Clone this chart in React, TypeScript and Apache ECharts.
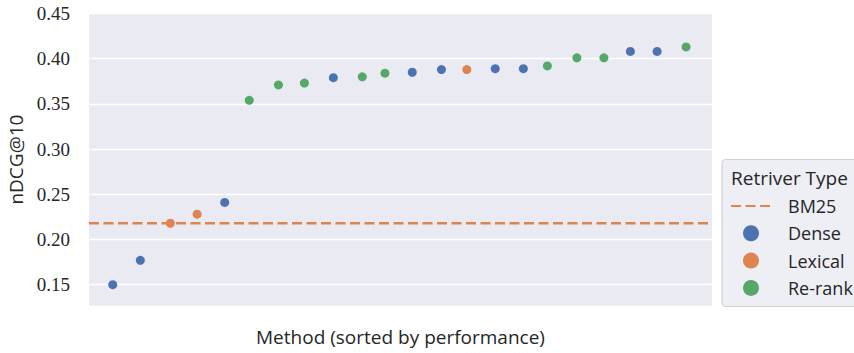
import React, { useEffect, useRef } from "react";
import * as echarts from "echarts";

// Method positions (sorted by performance, with the plot's small horizontal jitter)
const methodRank = [-0.02, 0.99, 2.09, 3.07, 4.08, 4.98, 6.05, 7.0, 8.06, 9.12, 9.95, 10.95, 12.02, 12.95, 13.99, 15.02, 15.9, 16.98, 17.97, 18.94, 19.92, 20.98];
const ndcgScores = [0.150, 0.177, 0.218, 0.228, 0.241, 0.354, 0.371, 0.373, 0.379, 0.380, 0.384, 0.385, 0.388, 0.388, 0.389, 0.389, 0.392, 0.401, 0.401, 0.408, 0.408, 0.413];
const retrieverTypes = [
  "Dense", "Dense", "Lexical", "Lexical", "Dense", "Re-rank", "Re-rank", "Re-rank",
  "Dense", "Re-rank", "Re-rank", "Dense", "Dense", "Lexical", "Dense", "Dense",
  "Re-rank", "Re-rank", "Re-rank", "Dense", "Dense", "Re-rank",
];
const typeNames = ["Dense", "Lexical", "Re-rank"];
const typeColors = ["#4C72B0", "#DD8452", "#55A868"];
const bm25Score = 0.218;
const yTicks = [0.15, 0.2, 0.25, 0.3, 0.35, 0.4, 0.45];
const xRange = [-0.89, 21.93];
const yRange = [0.1268, 0.45];

const SANS = "Open Sans";
const SERIF = "Liberation Serif, Times New Roman, serif";
const TEXT = "#262626";

export default function App() {
  const ref = useRef<HTMLDivElement>(null);
  useEffect(() => {
    document.body.style.margin = "0";
    if (!ref.current) return;
    const chart = echarts.init(ref.current, undefined, { renderer: "svg" });

    const scatterSeries = typeNames.map((name, k) => ({
      name,
      type: "scatter",
      z: 4,
      symbol: "circle",
      symbolSize: 9,
      itemStyle: { color: typeColors[k], opacity: 1 },
      data: methodRank
        .map((x, i) => [x, ndcgScores[i], retrieverTypes[i]])
        .filter((d) => d[2] === name)
        .map((d) => [d[0], d[1]]),
    }));

    chart.setOption({
      animation: false,
      textStyle: { fontFamily: SERIF },
      grid: {
        left: 89,
        right: 142,
        top: 13.5,
        bottom: 47.3,
        show: true,
        backgroundColor: "#EAEAF2",
        borderWidth: 0,
        containLabel: false,
        outerBoundsMode: "none",
      },
      xAxis: {
        type: "value",
        min: xRange[0],
        max: xRange[1],
        name: "Method (sorted by performance)",
        nameLocation: "middle",
        nameGap: 22,
        nameTextStyle: { fontFamily: SANS, fontSize: 19, color: TEXT },
        axisLine: { show: false },
        axisTick: { show: false },
        axisLabel: { show: false },
        splitLine: { show: false },
      },
      yAxis: {
        type: "value",
        min: yRange[0],
        max: yRange[1],
        name: "nDCG@10",
        nameLocation: "middle",
        nameGap: 59,
        nameTextStyle: { fontFamily: SANS, fontSize: 19, color: TEXT },
        axisLine: { show: false },
        axisTick: { show: false },
        splitLine: { show: false },
        axisLabel: {
          customValues: yTicks,
          formatter: (v: number) => "{s|" + v.toFixed(2) + "}",
          fontFamily: SERIF,
          fontSize: 19,
          color: TEXT,
          margin: 19,
          rich: { s: { fontFamily: SERIF, fontSize: 19, color: TEXT } },
        },
      },
      legend: {
        orient: "vertical",
        left: 730,
        top: 197,
        padding: 0,
        itemWidth: 40,
        itemHeight: 16,
        itemGap: 9.3,
        selectedMode: false,
        data: [
          { name: "BM25", itemStyle: { color: "rgba(0,0,0,0)", borderWidth: 0 } },
          ...typeNames,
        ],
        textStyle: { fontFamily: SANS, fontSize: 18, color: TEXT, padding: [0, 0, 0, 12] },
      },
      graphic: [
        {
          type: "rect",
          z: -1,
          shape: { x: 722, y: 159.5, width: 150, height: 147, r: 4 },
          style: { fill: "#EEEEF5", stroke: "#D2D2D2", lineWidth: 1.2 },
          silent: true,
        },
        {
          type: "text",
          x: 731,
          y: 178,
          style: {
            text: "Retriver Type",
            fontFamily: SANS,
            fontSize: 19,
            fill: TEXT,
            verticalAlign: "middle",
          },
          silent: true,
        },
      ],
      series: [
        {
          name: "BM25",
          type: "line",
          z: 3,
          symbol: "none",
          data: [
            [xRange[0], bm25Score],
            [xRange[1], bm25Score],
          ],
          lineStyle: { color: "#DD8452", width: 2.7, type: [10, 4.5] },
          itemStyle: { color: "#DD8452" },
          markLine: {
            silent: true,
            z: 1,
            symbol: ["none", "none"],
            label: { show: false },
            lineStyle: { color: "#FFFFFF", width: 1.4, type: "solid" },
            emphasis: { disabled: true },
            data: yTicks.map((v) => ({ yAxis: v })),
          },
        },
        ...scatterSeries,
      ],
    });
    return () => chart.dispose();
  }, []);
  return <div ref={ref} style={{ width: 854, height: 353 }} />;
}
